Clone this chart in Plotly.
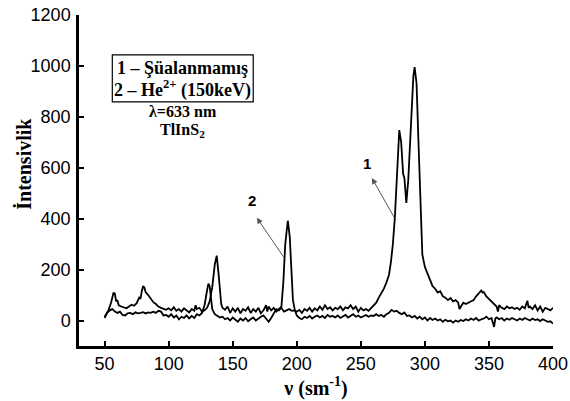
import plotly.graph_objects as go

# Curve 2 (He2+ irradiated)
x2 = [50, 51, 53, 55, 57, 58, 59, 60, 61, 63, 65, 67, 69, 71, 73, 75, 77, 78, 79, 80, 81, 82, 84, 86, 88, 90,
      92, 94, 96, 98, 100, 102, 104, 106, 108, 110, 112, 114, 116, 118, 120, 121, 122, 124, 126, 128, 130, 132,
      134, 136, 137.5, 139, 140, 141, 142, 144, 146, 148, 150, 152, 154, 156, 158, 160, 162, 164, 166, 168, 170,
      172, 174, 176, 177, 178, 180, 182, 184, 186, 188, 189.5, 191, 193, 194.5, 196, 197, 198.5, 200, 202, 204,
      206, 208, 210, 212, 214, 216, 218, 220, 222, 224, 226, 228, 230, 232, 234, 236, 238, 240, 242, 244, 246,
      248, 250, 252, 254, 256, 258, 260, 262, 264, 266, 268, 270, 272, 274, 276, 278, 280, 282, 284, 286, 288,
      290, 292, 294, 296, 298, 300, 302, 304, 306, 308, 310, 312, 314, 316, 318, 320, 322, 324, 326, 328, 330,
      332, 334, 336, 338, 340, 342, 344, 346, 348, 350, 352, 354, 355, 356, 358, 360, 362, 364, 366, 368, 370,
      372, 374, 376, 378, 380, 382, 384, 386, 388, 390, 392, 394, 396, 398, 400]
y2 = [15, 25, 40, 70, 110, 105, 75, 80, 60, 55, 50, 48, 55, 62, 58, 68, 90, 85, 115, 135, 130, 112, 100, 85, 72, 65,
      55, 50, 45, 42, 48, 40, 52, 38, 45, 35, 48, 40, 32, 45, 38, 60, 45, 50, 35, 40, 50, 75,
      130, 220, 255, 180, 100, 65, 50, 42, 55, 30, 48, 35, 50, 28, 45, 38, 52, 30, 45, 35, 50,
      28, 40, 60, 35, 55, 40, 50, 35, 45, 55, 150, 300, 392, 330, 180, 80, 40, 20, 10, 5,
      15, 10, 18, 8, 15, 20, 12, 18, 10, 22, 15, 18, 12, 20, 10, 15, 22, 12, 18, 25, 15,
      20, 12, 18, 22, 15, 20, 18, 25, 18, 22, 15, 25, 30, 42, 35, 38, 30, 25, 32, 18, 20,
      12, 18, 8, 15, 5, 12, 0, 10, 2, 8, 0, 5, -5, 3, -3, 0, -8, 0, -5, 2, -2,
      5, 0, 8, 2, 10, 0, 5, 8, 15, 5, 10, -25, 8, 12, 5, 10, 0, 8, 3, 10, 5,
      0, 8, 2, 10, 5, 0, 8, 2, 5, -2, 5, 0, -5, -3, -12]

# Curve 1 (unirradiated)
x1 = [50, 52, 54, 56, 58, 60, 62, 64, 66, 68, 70, 72, 74, 76, 78, 80, 82, 84, 86, 88, 90, 92, 94, 96, 98, 100,
      102, 104, 106, 108, 110, 112, 114, 116, 118, 120, 122, 124, 126, 128, 130, 131, 132, 133, 134, 136, 138,
      140, 142, 144, 146, 148, 150, 152, 154, 156, 158, 160, 162, 164, 166, 168, 170, 172, 174, 176, 178, 180,
      182, 184, 186, 188, 190, 192, 194, 196, 198, 200, 202, 204, 206, 208, 210, 212, 214, 216, 218, 220, 222,
      224, 226, 228, 230, 232, 234, 236, 238, 240, 242, 244, 246, 248, 250, 252, 254, 256, 258, 260, 262, 264,
      266, 268, 270, 272, 273.5, 275, 276.5, 278, 280, 281.5, 283, 284, 285.5, 287, 289, 291, 292, 293.5, 295,
      296.5, 298, 300, 302, 304, 306, 308, 310, 312, 314, 316, 318, 320, 322, 324, 326, 327, 328, 330, 332, 334,
      336, 338, 340, 342, 344, 345, 346, 348, 350, 352, 354, 356, 357, 358, 360, 362, 364, 366, 368, 370, 372,
      374, 376, 378, 380, 381, 382, 384, 386, 388, 390, 392, 394, 396, 398, 400]
y1 = [10, 30, 40, 45, 35, 30, 35, 22, 20, 28, 30, 25, 32, 28, 30, 33, 28, 32, 30, 35, 30, 38, 35, 20, 22, 15,
      25, 12, 20, 5, 15, 10, 20, 8, 18, 10, 25, 20, 30, 60, 120, 145, 135, 90, 45, 25, 20,
      12, 15, 5, 10, 0, 12, 5, -5, 8, 0, 10, -3, 5, 12, 0, 8, 15, 20, 5, -5, 10,
      30, 45, 40, 50, 35, 40, 45, 38, 40, 35, 42, 30, 45, 38, 50, 35, 48, 40, 55, 42, 60,
      45, 52, 40, 50, 45, 55, 40, 52, 48, 60, 45, 55, 35, 50, 40, 45, 38, 50, 60, 70, 90,
      105, 125, 150, 180, 230, 300, 400, 560, 748, 700, 576, 560, 462, 550, 780, 960, 995, 930, 700,
      450, 260, 210, 185, 160, 135, 125, 110, 115, 95, 90, 80, 88, 75, 80, 70, 45, 55, 70, 65, 70,
      72, 80, 95, 105, 118, 110, 112, 95, 85, 75, 65, 55, 35, 60, 50, 45, 55, 48, 52, 45, 50,
      42, 55, 48, 78, 50, 55, 45, 60, 40, 55, 35, 50, 45, 40, 50]

x_ticks = [50, 100, 150, 200, 250, 300, 350, 400]
y_ticks = [0, 200, 400, 600, 800, 1000, 1200]

fig = go.Figure()
fig.add_trace(go.Scatter(x=x2, y=y2, mode="lines", line=dict(color="black", width=1.8), showlegend=False))
fig.add_trace(go.Scatter(x=x1, y=y1, mode="lines", line=dict(color="black", width=1.8), showlegend=False))

serif = "Liberation Serif"
sans = "Liberation Sans"

fig.update_layout(
    width=570, height=401,
    margin=dict(l=79, r=17, t=15, b=55),
    paper_bgcolor="white", plot_bgcolor="white",
    xaxis=dict(range=[30, 400], tickvals=x_ticks, showgrid=False, zeroline=False, automargin=False,
               showline=True, linecolor="black", linewidth=2.5, ticks="inside",
               ticklen=5, tickwidth=2, tickcolor="black",
               tickfont=dict(family=sans, size=18, color="black"),
               title=dict(text="<b>ν (sm<sup>-1</sup>)</b>", font=dict(family=serif, size=20, color="black"),
                          standoff=5)),
    yaxis=dict(range=[-100, 1200], tickvals=y_ticks, showgrid=False, zeroline=False, automargin=False,
               showline=True, linecolor="black", linewidth=2.5, ticks="inside",
               ticklen=5, tickwidth=2, tickcolor="black", ticklabelstandoff=2,
               tickfont=dict(family=sans, size=18, color="black")),
)

# y-axis title (placed off-centre as in the original)
fig.add_annotation(x=-0.145, y=0.55, xref="paper", yref="paper", text="<b>İntensivlik</b>",
                   textangle=-90, showarrow=False, font=dict(family=serif, size=20, color="black"))

# legend box
fig.add_shape(type="rect", xref="x", yref="y", x0=56, x1=166, y0=859, y1=1043,
              line=dict(color="black", width=1.2), fillcolor="rgba(0,0,0,0)")
texts = [
    ("<b>1 – Şüalanmamış</b>", 111, 992, 18),
    ("<b>2 – He<sup>2+</sup> (150keV)</b>", 111, 910, 18),
    ("<b>λ=633 nm</b>", 111, 821, 16),
    ("<b>TlInS<sub>2</sub></b>", 111, 745, 16),
]
for t, xx, yy, fs in texts:
    fig.add_annotation(x=xx, y=yy, xref="x", yref="y", text=t, showarrow=False,
                       font=dict(family=serif, size=fs, color="black"))

# arrows
fig.add_annotation(x=258.6, y=560, ax=276.6, ay=400, xref="x", yref="y", axref="x", ayref="y",
                   text="", showarrow=True, arrowhead=2, arrowsize=1.2, arrowwidth=1, arrowcolor="#555555")
fig.add_annotation(x=168.8, y=404, ax=190.6, ay=243, xref="x", yref="y", axref="x", ayref="y",
                   text="", showarrow=True, arrowhead=2, arrowsize=1.2, arrowwidth=1, arrowcolor="#555555")
fig.add_annotation(x=254.7, y=615, xref="x", yref="y", text="<b>1</b>", showarrow=False,
                   font=dict(family=sans, size=15, color="black"))
fig.add_annotation(x=164.8, y=470, xref="x", yref="y", text="<b>2</b>", showarrow=False,
                   font=dict(family=sans, size=15, color="black"))

# remove the browser's default 8px page margin so the figure fills the window exactly
fig.write_html("out.html", config={"displayModeBar": False},
               post_script="document.body.style.margin='0px';")
